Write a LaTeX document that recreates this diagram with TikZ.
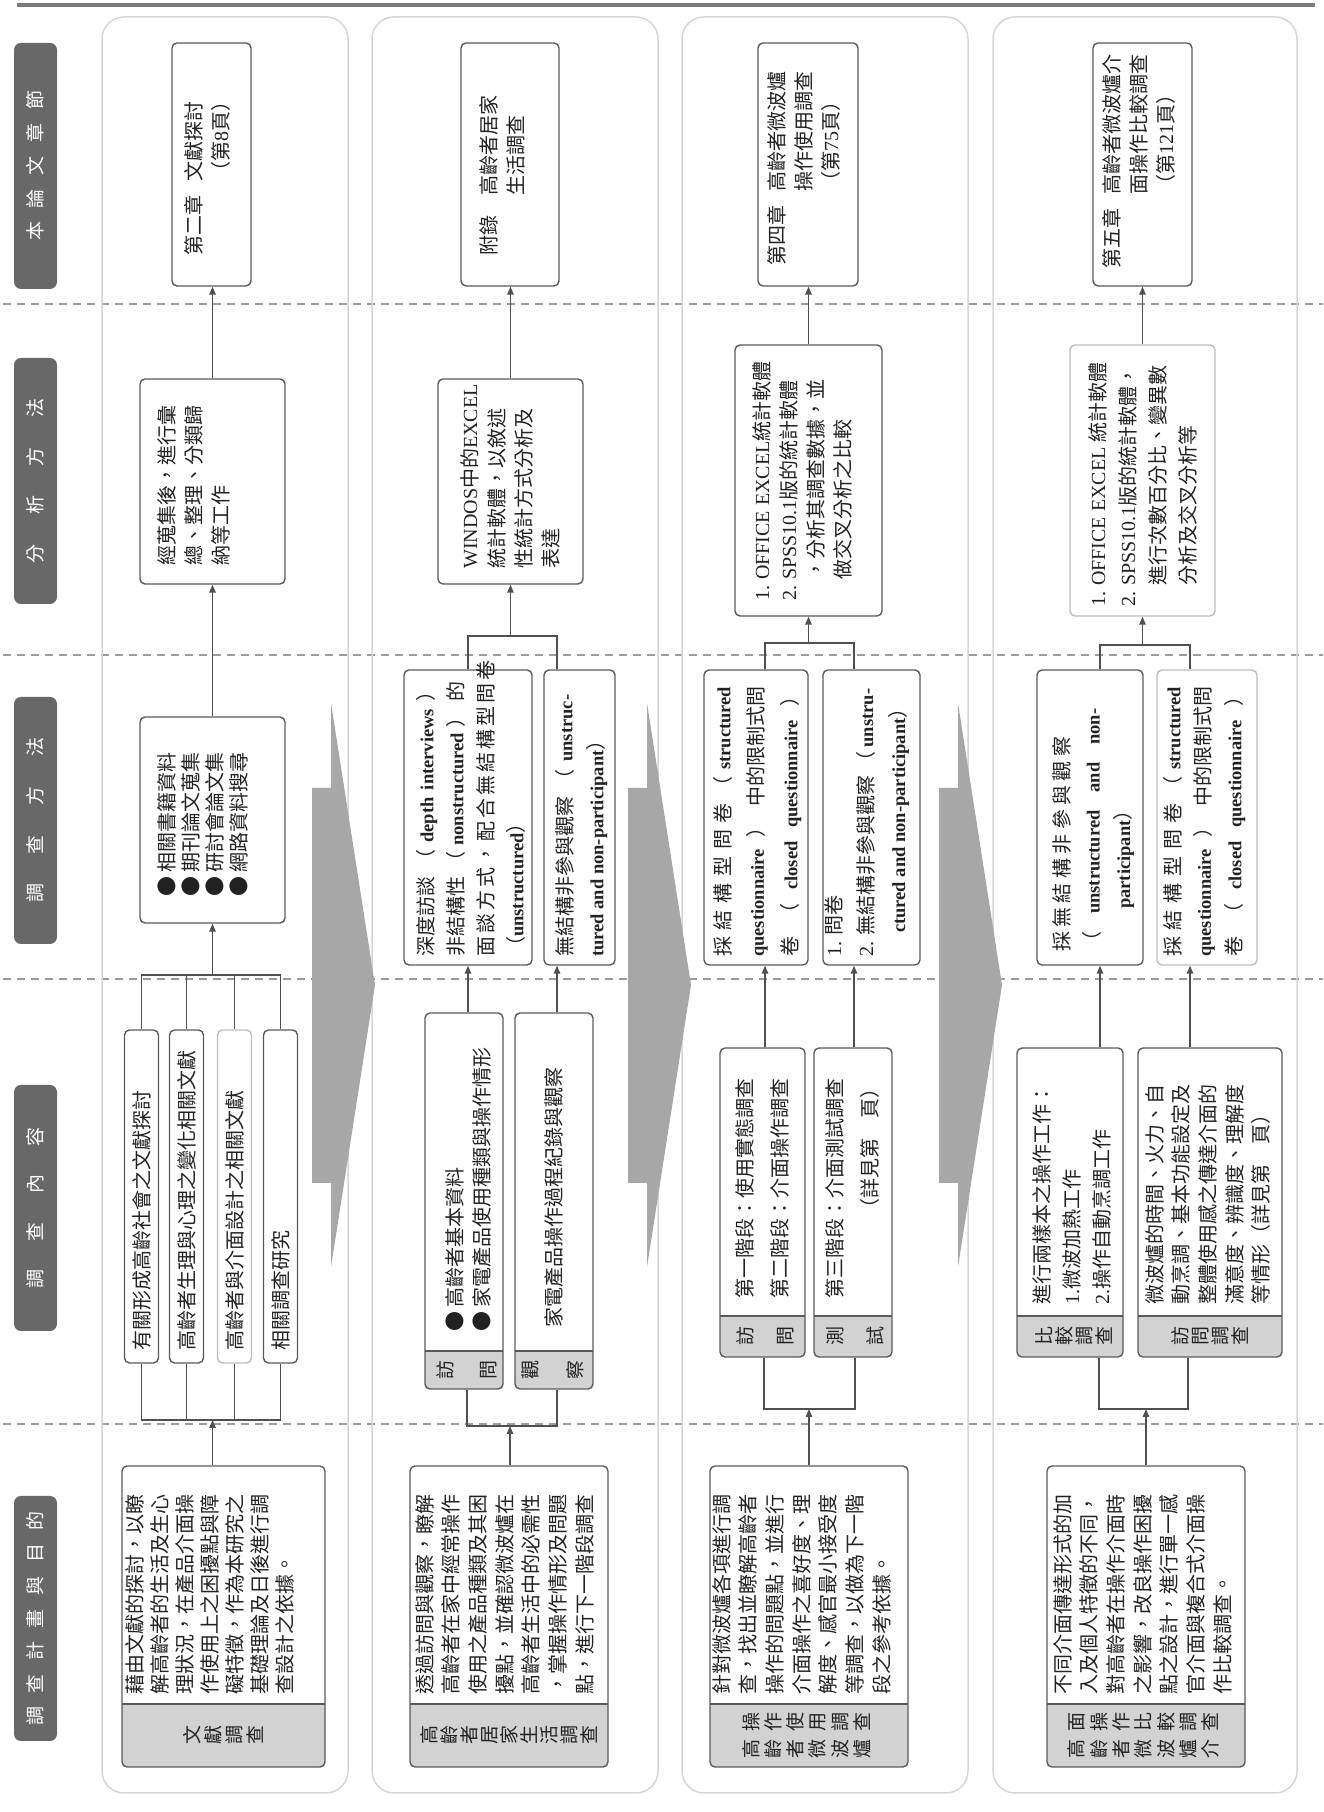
\documentclass[tikz,border=0pt]{standalone}
\usepackage{fontspec}
\setmainfont{Noto Sans CJK TC}
\newfontfamily\engfont{Liberation Serif}
\usetikzlibrary{arrows.meta}
\definecolor{boxgray}{HTML}{5A5A5A}
\definecolor{lightline}{HTML}{BDBDBD}
\definecolor{linegray}{HTML}{505050}
\definecolor{bandgray}{HTML}{D2D2D2}
\definecolor{headgray}{HTML}{686868}
\definecolor{panelgray}{HTML}{D6D6D6}
\definecolor{sepgray}{HTML}{9C9C9C}
\definecolor{arrowgray}{HTML}{A7A7A7}
\definecolor{rulegray}{HTML}{7A7A7A}
\definecolor{textgray}{HTML}{222222}
\newcommand\bodyfont{\fontsize{20}{27}\selectfont}
\newcommand\labfont{\fontsize{19}{21}\selectfont}
\newcommand\headfont{\fontsize{19}{21}\selectfont}
\newcommand\eng[1]{{\engfont #1}}
\newcommand\engb[1]{{\engfont\bfseries\fontsize{18.5}{22}\selectfont #1}}
\newcommand\jline[2]{\makebox[#1][s]{#2}}
\newcommand\labelband[5]{%
  \begin{scope}
    \clip (#1,#2) rectangle (#3,#5);
    \fill[bandgray, rounded corners=5pt] (#1,#2) rectangle (#4,#5);
  \end{scope}
  \draw[draw=boxgray, line width=1.4pt] (#3,#2) -- (#3,#5);}
\begin{document}
\begin{tikzpicture}[x=1pt, y=1pt,
  ibox/.style={draw=boxgray, line width=1.4pt, rounded corners=5pt, inner sep=0pt, text=textgray, font=\bodyfont},
  lightbox/.style={ibox, draw=lightline},
  hdbox/.style={fill=headgray, rounded corners=7pt, inner sep=0pt, minimum height=43pt, text=white, font=\headfont},
  txt/.style={anchor=north west, inner sep=0pt, align=left, text=textgray, font=\bodyfont},
  vlab/.style={inner sep=0pt, align=center, text=textgray, font=\labfont},
  conn/.style={draw=linegray, line width=1.4pt},
  arr/.style={conn, -{Triangle[length=8pt,width=6.5pt]}},
  panel/.style={draw=panelgray, line width=1.5pt, rounded corners=22pt},
  divline/.style={draw=sepgray, line width=1.2pt, dash pattern=on 8pt off 6pt},
  bigarrow/.style={fill=arrowgray}]
\useasboundingbox (0,0) rectangle (1323,1812);
\begin{scope}[rotate=90, transform shape]
  \draw[line width=4pt, draw=rulegray] (1807,-17) -- (1807,-1315);
  \foreach \u in {388,833,1157,1508}
    \draw[divline] (\u,-3) -- (\u,-1323);
  \foreach \a/\b in {102/348, 372/658, 682/968, 993/1297}
    \draw[panel] (19,-\b) rectangle (1795,-\a);
  \foreach \s in {0,316,627}
    \fill[bigarrow, yshift=-\s pt] (1024,-312) -- (1024,-331) -- (1109,-331) -- (827,-375)
      -- (545,-331) -- (629,-331) -- (629,-312) -- cycle;

  \node[hdbox, minimum width=245pt] (hd1) at (193.5,-35.5) {\makebox[215pt][s]{調 查 計 畫 與 目 的}};
  \node[hdbox, minimum width=246pt] (hd2) at (604,-35.5) {\makebox[162pt][s]{調 查 內 容}};
  \node[hdbox, minimum width=247pt] (hd3) at (991.5,-35.5) {\makebox[165pt][s]{調 查 方 法}};
  \node[hdbox, minimum width=246pt] (hd4) at (1331,-35.5) {\makebox[165pt][s]{分 析 方 法}};
  \node[hdbox, minimum width=246pt] (hd5) at (1646,-35.5) {\makebox[150pt][s]{本 論 文 章 節}};

  \node[ibox, minimum width=243pt, minimum height=79pt] (ch1) at (1647.5,-211.5) {};
  \node[txt] (ch1t) at (1556,-182) {\begin{tabular}{@{}l@{\hspace{14pt}}l@{}}第二章&文獻探討\\&（第\eng{8}頁）\end{tabular}};
  \node[ibox, minimum width=205pt, minimum height=145pt] (an1) at (1330.5,-212.5) {};
  \node[txt] (an1t) at (1246,-157) {經蒐集後，進行彙\\總、整理、分類歸\\納等工作};
  \node[ibox, minimum width=206pt, minimum height=145pt] (me1) at (992,-212.5) {};
  \node[txt, font={\fontsize{20}{24}\selectfont}] (me1t) at (915,-157) {●\ 相關書籍資料\\●\ 期刊論文蒐集\\●\ 研討會論文集\\●\ 網路資料搜尋};
  \node[ibox, minimum width=333pt, minimum height=34pt, text width=309pt, align=left] (co1a) at (615.5,-141.5) {有關形成高齡社會之文獻探討};
  \node[ibox, minimum width=333pt, minimum height=34pt, text width=309pt, align=left] (co1b) at (615.5,-186.5) {高齡者生理與心理之變化相關文獻};
  \node[lightbox, minimum width=333pt, minimum height=34pt, text width=309pt, align=left] (co1c) at (615.5,-234.5) {高齡者與介面設計之相關文獻};
  \node[ibox, minimum width=333pt, minimum height=34pt, text width=309pt, align=left] (co1d) at (615.5,-280.5) {相關調查研究};
  \labelband{45}{-325}{108}{346}{-122}
  \node[ibox, minimum width=301pt, minimum height=203pt] (go1) at (195.5,-223.5) {};
  \node[vlab] (go1l) at (76.5,-223.5) {文\\獻\\調\\查};
  \node[txt, font={\fontsize{20}{25}\selectfont}] (go1t) at (117,-125) {藉由文獻的探討，以瞭\\解高齡者的生活及生心\\理狀況，在產品介面操\\作使用上之困擾點與障\\礙特徵，作為本研究之\\基礎理論及日後進行調\\查設計之依據。};
  \coordinate (t1a) at (837,-141.5);
  \coordinate (t1d) at (837,-280.5);
  \coordinate (t1) at (837,-212.5);
  \coordinate (b1a) at (392,-141.5);
  \coordinate (b1d) at (392,-280.5);
  \coordinate (b1) at (392,-212.5);
  \draw[conn] (co1a.east) -- (t1a) -- (t1d) -- (co1d.east);
  \draw[conn] (co1b.east) -- (co1b.east -| t1);
  \draw[conn] (co1c.east) -- (co1c.east -| t1);
  \draw[arr] (t1) -- (me1.west);
  \draw[conn] (co1a.west) -- (b1a) -- (b1d) -- (co1d.west);
  \draw[conn] (co1b.west) -- (co1b.west -| b1);
  \draw[conn] (co1c.west) -- (co1c.west -| b1);
  \draw[arr] (go1.east |- b1) -- (b1);
  \draw[arr] (me1.east) -- (an1.west);
  \draw[arr] (an1.east) -- (an1.east -| ch1.west);

  \node[ibox, minimum width=243pt, minimum height=98pt] (ch2) at (1647.5,-510) {};
  \node[txt] (ch2t) at (1556,-477) {\begin{tabular}{@{}l@{\hspace{20pt}}l@{}}附錄&高齡者居家\\&生活調查\end{tabular}};
  \node[ibox, minimum width=205pt, minimum height=145pt] (an2) at (1330.5,-510.5) {};
  \node[txt] (an2t) at (1243,-460) {\eng{WINDOS}中的\eng{EXCEL}\\統計軟體，以敘述\\性統計方式分析及\\表達};
  \node[ibox, minimum width=295pt, minimum height=128pt] (me2a) at (994.5,-468) {};
  \node[txt, font={\fontsize{20}{30}\selectfont}] (me2at) at (855,-416) {\jline{275pt}{深度訪談 （ \engb{depth interviews} ）}\\\jline{275pt}{非結構性 （ \engb{nonstructured} ） 的}\\\jline{275pt}{面 談 方 式 ， 配 合 無 結 構 型 問 卷}\\（\engb{unstructured}）};
  \node[ibox, minimum width=295pt, minimum height=71pt] (me2b) at (994.5,-579.5) {};
  \node[txt, font={\fontsize{20}{31}\selectfont}] (me2bt) at (855,-555) {\jline{262pt}{無結構非參與觀察 （ \engb{unstruc-}}\\\engb{tured and non-participant}）};
  \labelband{423}{-503}{461}{799}{-425}
  \node[ibox, minimum width=376pt, minimum height=78pt] (co2a) at (611,-464) {};
  \node[vlab] (co2al) at (442,-466.5) {訪\\[22pt]問};
  \node[txt] (co2at) at (480,-445) {●\ 高齡者基本資料\\●\ 家電產品使用種類與操作情形};
  \labelband{423}{-593}{461}{799}{-515}
  \node[ibox, minimum width=376pt, minimum height=78pt] (co2b) at (611,-554) {};
  \node[vlab] (co2bl) at (442,-552.5) {觀\\[24pt]察};
  \node[txt, anchor=west] (co2bt) at (484,-554) {家電產品操作過程紀錄與觀察};
  \labelband{45}{-608}{108}{346}{-410}
  \node[ibox, minimum width=301pt, minimum height=198pt] (go2) at (195.5,-509) {};
  \node[vlab, font={\fontsize{19}{20}\selectfont}] (go2l) at (76.5,-509) {高\\齡\\者\\居\\家\\生\\活\\調\\查};
  \node[txt, font={\fontsize{20}{26.7}\selectfont}] (go2t) at (117,-415) {透過訪問與觀察，瞭解\\高齡者在家中經常操作\\使用之產品種類及其困\\擾點，並確認微波爐在\\高齡者生活中的必需性\\，掌握操作情形及問題\\點，進行下一階段調查};
  \coordinate (t2a) at (1176,-468);
  \coordinate (t2b) at (1176,-557);
  \coordinate (t2) at (1176,-510.5);
  \coordinate (b2a) at (386,-467);
  \coordinate (b2b) at (386,-557);
  \coordinate (b2) at (386,-510);
  \draw[conn] (me2a.east |- t2a) -- (t2a) -- (t2b) -- (me2b.east |- t2b);
  \draw[arr] (t2) -- (an2.west |- t2);
  \draw[arr] (an2.east) -- (an2.east -| ch2.west);
  \draw[arr] (co2a.east |- t2a) -- (me2a.west |- t2a);
  \draw[arr] (co2b.east |- t2b) -- (me2b.west |- t2b);
  \draw[conn] (co2a.west |- b2a) -- (b2a) -- (b2b) -- (co2b.west |- b2b);
  \draw[arr] (go2.east |- b2) -- (b2);

  \node[ibox, minimum width=243pt, minimum height=100pt] (ch3) at (1647.5,-808) {};
  \node[txt] (ch3t) at (1546,-765) {\begin{tabular}{@{}l@{\hspace{14pt}}l@{}}第四章&高齡者微波爐\\&操作使用調查\\&（第\eng{75}頁）\end{tabular}};
  \node[ibox, minimum width=271pt, minimum height=147pt] (an3) at (1331.5,-808.5) {};
  \node[txt] (an3t) at (1211,-750) {\begin{tabular}{@{}l@{\hspace{6pt}}l@{}}\eng{1.}&\eng{OFFICE EXCEL}統計軟體\\\eng{2.}&\eng{SPSS10.1}版的統計軟體\\&，分析其調查數據，並\\&做交叉分析之比較\end{tabular}};
  \node[ibox, minimum width=295pt, minimum height=104pt] (me3a) at (994.5,-756) {};
  \node[txt, font={\fontsize{20}{33.5}\selectfont}] (me3at) at (855,-713) {\jline{270pt}{採 結 構 型 問 卷 （ \engb{structured}}\\\jline{270pt}{\engb{questionnaire} ） 中的限制式問}\\\jline{270pt}{卷 （ \engb{closed} \engb{questionnaire} ）}};
  \node[ibox, minimum width=295pt, minimum height=97pt] (me3b) at (994.5,-871.5) {};
  \node[txt, font={\fontsize{20}{32}\selectfont}] (me3bt) at (855,-824) {\eng{1.} 問卷\\\jline{268pt}{\eng{2.} 無結構非參與觀察 （ \engb{unstru-}}\\\hspace*{24pt}\engb{ctured and non-participant}）};
  \labelband{455}{-805}{496}{764}{-720}
  \node[ibox, minimum width=309pt, minimum height=85pt] (co3a) at (609.5,-762.5) {};
  \node[vlab] (co3al) at (475.5,-765) {訪\\[19pt]問};
  \node[txt, font={\fontsize{20}{35}\selectfont}] (co3at) at (513,-735) {第一階段：使用實態調查\\第二階段：介面操作調查};
  \labelband{455}{-892}{496}{764}{-814}
  \node[ibox, minimum width=309pt, minimum height=78pt] (co3b) at (609.5,-853) {};
  \node[vlab] (co3bl) at (475.5,-855) {測\\[19pt]試};
  \node[txt, font={\fontsize{20}{35}\selectfont}] (co3bt) at (513,-825) {第三階段：介面測試調查\\\hspace*{4em}（詳見第\quad 頁）};
  \labelband{45}{-908}{108}{346}{-710}
  \node[ibox, minimum width=301pt, minimum height=198pt] (go3) at (195.5,-809) {};
  \node[vlab] (go3l) at (76.5,-809) {\begin{tabular}{@{}c@{\hspace{9pt}}c@{}}高&操\\齡&作\\者&使\\微&用\\波&調\\爐&查\end{tabular}};
  \node[txt, font={\fontsize{20}{26.7}\selectfont}] (go3t) at (117,-712) {針對微波爐各項進行調\\查，找出並瞭解高齡者\\操作的問題點，並進行\\介面操作之喜好度、理\\解度、感官最小接受度\\等調查，以做為下一階\\段之參考依據。};
  \coordinate (t3a) at (1169,-765);
  \coordinate (t3b) at (1169,-854);
  \coordinate (t3) at (1169,-808.5);
  \coordinate (b3a) at (403,-764);
  \coordinate (b3b) at (403,-855);
  \coordinate (b3) at (403,-809);
  \draw[conn] (me3a.east |- t3a) -- (t3a) -- (t3b) -- (me3b.east |- t3b);
  \draw[arr] (t3) -- (an3.west |- t3);
  \draw[arr] (an3.east) -- (an3.east -| ch3.west);
  \draw[arr] (co3a.east |- t3a) -- (me3a.west |- t3a);
  \draw[arr] (co3b.east |- t3b) -- (me3b.west |- t3b);
  \draw[conn] (co3a.west |- b3a) -- (b3a) -- (b3b) -- (co3b.west |- b3b);
  \draw[arr] (go3.east |- b3) -- (b3);

  \node[ibox, minimum width=243pt, minimum height=99pt] (ch4) at (1647.5,-1142.5) {};
  \node[txt] (ch4t) at (1543,-1100) {\begin{tabular}{@{}l@{\hspace{14pt}}l@{}}第五章&高齡者微波爐介\\&面操作比較調查\\&（第\eng{121}頁）\end{tabular}};
  \node[lightbox, minimum width=271pt, minimum height=145pt] (an4) at (1331.5,-1142.5) {};
  \node[txt, font={\fontsize{20}{30}\selectfont}] (an4t) at (1205,-1084) {\begin{tabular}{@{}l@{\hspace{6pt}}l@{}}\eng{1.}&\eng{OFFICE EXCEL} 統計軟體\\\eng{2.}&\eng{SPSS10.1}版的統計軟體，\\&進行次數百分比、變異數\\&分析及交叉分析等\end{tabular}};
  \node[ibox, minimum width=295pt, minimum height=106pt] (me4a) at (994.5,-1090) {};
  \node[txt, font={\fontsize{20}{30.5}\selectfont}] (me4at) at (860,-1052) {\jline{215pt}{採 無 結 構 非 參 與 觀 察}\\\jline{243pt}{（ \engb{unstructured} \engb{and} \engb{non-}}\\\hspace*{43pt}\engb{participant}）};
  \node[lightbox, minimum width=295pt, minimum height=100pt] (me4b) at (994.5,-1207) {};
  \node[txt, font={\fontsize{20}{30.5}\selectfont}] (me4bt) at (855,-1163) {\jline{270pt}{採 結 構 型 問 卷 （ \engb{structured}}\\\jline{270pt}{\engb{questionnaire} ） 中的限制式問}\\\jline{270pt}{卷 （ \engb{closed} \engb{questionnaire} ）}};
  \labelband{455}{-1123}{496}{764}{-1017}
  \node[ibox, minimum width=309pt, minimum height=106pt] (co4a) at (609.5,-1070) {};
  \node[vlab, font={\fontsize{19}{20}\selectfont}] (co4al) at (475.5,-1073.5) {比\\較\\調\\查};
  \node[txt, font={\fontsize{20}{30}\selectfont}] (co4at) at (507,-1032) {進行兩樣本之操作工作：\\\eng{1.}微波加熱工作\\\eng{2.}操作自動烹調工作};
  \labelband{455}{-1282}{496}{764}{-1138}
  \node[ibox, minimum width=309pt, minimum height=144pt] (co4b) at (609.5,-1210) {};
  \node[vlab, font={\fontsize{19}{20}\selectfont}] (co4bl) at (475.5,-1210) {訪\\問\\調\\查};
  \node[txt, font={\fontsize{20}{26.7}\selectfont}] (co4bt) at (507,-1145) {微波爐的時間、火力、自\\動烹調、基本功能設定及\\整體使用感之傳達介面的\\滿意度、辨識度、理解度\\等情形（詳見第\quad 頁）};
  \labelband{45}{-1245}{108}{346}{-1047}
  \node[ibox, minimum width=301pt, minimum height=198pt] (go4) at (195.5,-1146) {};
  \node[vlab] (go4l) at (76.5,-1146) {\begin{tabular}{@{}c@{\hspace{9pt}}c@{}}高&面\\齡&操\\者&作\\微&比\\波&較\\爐&調\\介&查\end{tabular}};
  \node[txt, font={\fontsize{20}{26.7}\selectfont}] (go4t) at (117,-1053) {不同介面傳達形式的加\\入及個人特徵的不同，\\對高齡者在操作介面時\\之影響，改良操作困擾\\點之設計，進行單一感\\官介面與複合式介面操\\作比較調查。};
  \coordinate (t4a) at (1167,-1100);
  \coordinate (t4b) at (1167,-1190);
  \coordinate (t4) at (1167,-1142.5);
  \coordinate (b4a) at (403,-1099);
  \coordinate (b4b) at (403,-1188);
  \coordinate (b4) at (403,-1146);
  \draw[conn] (me4a.east |- t4a) -- (t4a) -- (t4b) -- (me4b.east |- t4b);
  \draw[arr] (t4) -- (an4.west |- t4);
  \draw[arr] (an4.east) -- (an4.east -| ch4.west);
  \draw[arr] (co4a.east |- t4a) -- (me4a.west |- t4a);
  \draw[arr] (co4b.east |- t4b) -- (me4b.west |- t4b);
  \draw[conn] (co4a.west |- b4a) -- (b4a) -- (b4b) -- (co4b.west |- b4b);
  \draw[arr] (go4.east |- b4) -- (b4);
\end{scope}
\end{tikzpicture}
\end{document}
